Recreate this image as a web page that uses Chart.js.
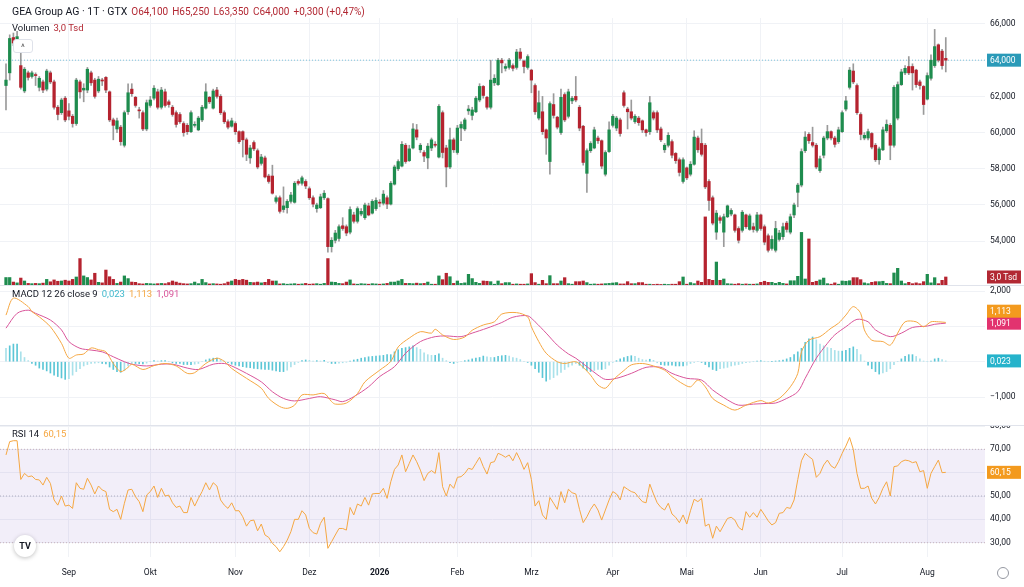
<!DOCTYPE html>
<html lang="de">
<head>
<meta charset="utf-8">
<title>GEA Group AG</title>
<script src="https://cdn.jsdelivr.net/npm/chart.js@4.4.1/dist/chart.umd.min.js"></script>
<style>
  html, body { margin: 0; padding: 0; background: #fff; }
  body { width: 1024px; height: 587px; position: relative; overflow: hidden; font-family: Roboto, "Noto Sans", sans-serif; color: #131722; }
  canvas { position: absolute; left: 0; }
  .sep { position: absolute; left: 0; width: 1024px; height: 1px; background: #e0e3eb; }
  .legend { position: absolute; left: 12px; white-space: nowrap; font-size: 9.5px; line-height: 12px; }
  .legend span { margin-left: 4px; }
  #head { top: 6px; font-size: 10.5px; }
  #head .v { color: #b22833; margin-left: 4px; font-size: 10px; }
  #vol { top: 22px; }
  #collapse { position: absolute; left: 13px; top: 39px; width: 18px; height: 12px; border: 1px solid #dfe2ea; border-radius: 3px; background: #fff; font-size: 9px; line-height: 14px; text-align: center; color: #555; }
  #macdLeg { top: 288px; }
  #rsiLeg { top: 428px; }
  #tv { position: absolute; left: 14px; top: 535px; width: 22px; height: 22px; border-radius: 50%; background: #fff; box-shadow: 0 1px 4px rgba(0,0,0,.25); font: bold 9px Roboto, sans-serif; line-height: 22px; text-align: center; color: #131722; }
  #gear { position: absolute; left: 997px; top: 567px; width: 10px; height: 10px; border: 1px solid #9598a1; border-radius: 50%; }
</style>
</head>
<body>
<canvas id="price" width="1024" height="286" style="top:0"></canvas>
<canvas id="macd" width="1024" height="140" style="top:286px"></canvas>
<canvas id="rsi" width="1024" height="161" style="top:426px"></canvas>
<div class="sep" style="top:285px"></div>
<div class="sep" style="top:425px"></div>

<div class="legend" id="head">GEA Group AG · 1T · GTX<span class="v">O64,100</span><span class="v">H65,250</span><span class="v">L63,350</span><span class="v">C64,000</span><span class="v">+0,300 (+0,47%)</span></div>
<div class="legend" id="vol">Volumen<span style="color:#b22833">3,0 Tsd</span></div>
<div id="collapse">^</div>
<div class="legend" id="macdLeg">MACD 12 26 close 9<span style="color:#3fb8cc">0,023</span><span style="color:#f5a742">1,113</span><span style="color:#d9559a">1,091</span></div>
<div class="legend" id="rsiLeg">RSI 14<span style="color:#f5a742">60,15</span></div>
<div id="tv">TV</div>
<div id="gear"></div>

<script>
// trading days per month, Aug 2025 .. Aug 2026
const DAYS_IN_MONTH = [17, 22, 23, 20, 19, 21, 20, 22, 20, 20, 22, 23, 6];
const MONTH_LABELS = ['Sep', 'Okt', 'Nov', 'Dez', '2026', 'Feb', 'Mrz', 'Apr', 'Mai', 'Jun', 'Jul', 'Aug'];

const OPEN = [
  62.60,63.30,65.25,65.00,63.70,62.30,63.30,63.10,63.20,62.50, 62.80,62.40,63.30,62.80,61.40,61.10,61.90,61.20,60.90,60.50,
  62.80,62.35,62.35,63.30,62.90,62.30,62.90,63.05,62.25,60.70, 60.20,60.30,59.30,61.15,62.40,61.95,61.25,61.10,60.20,61.50,
  61.90,62.25,61.40,62.25,61.70,61.40,61.10,61.00,60.50,60.40, 60.05,60.40,60.15,60.70,61.35,61.95,61.35,62.35,62.00,61.10,
  60.60,60.35,60.50,60.05,60.05,59.60,58.60,59.45,59.00,58.30, 58.60,57.60,57.60,56.20,56.40,55.75,55.85,56.20,56.15,57.30,
  57.20,57.30,56.90,56.40,55.80,55.85,56.40,56.35,53.70,54.05, 54.15,54.85,54.80,54.50,55.45,55.10,55.50,55.30,55.95,55.55,
  55.80,56.15,56.10,56.40,56.05,57.15,58.00,58.15,59.30,58.45, 59.15,60.15,59.05,58.90,58.60,59.15,59.35,58.65,61.10,59.15,
  58.10,59.60,58.90,60.25,60.20,61.20,60.95,61.15,61.80,62.55, 61.95,61.40,62.75,62.65,64.00,63.55,63.60,63.70,63.60,64.45,
  63.95,63.60,63.45,62.60,60.80,61.15,60.15,58.40,61.55,60.85, 60.00,62.10,60.90,61.75,62.00,61.40,60.35,57.75,59.00,59.15,
  59.70,59.55,57.70,58.95,60.40,60.25,60.70,62.20,61.30,61.15, 60.60,60.80,60.65,60.15,60.05,61.10,61.10,60.20,59.05,59.30,
  59.50,58.85,58.50,57.30,58.05,57.70,58.25,59.70,59.40,59.30, 57.30,56.40,54.50,55.30,54.50,55.35,55.50,55.45,54.70,54.60,
  55.45,54.65,54.80,54.60,55.45,54.80,54.30,53.60,53.50,54.10, 54.25,55.00,54.50,55.45,56.70,57.10,59.00,59.90,59.45,59.30,
  57.90,58.75,59.70,60.05,59.70,59.50,60.05,61.30,62.50,63.40, 62.60,61.00,59.70,59.70,59.95,59.30,58.50,59.05,60.10,60.40,
  59.30,60.80,62.65,63.30,63.65,63.65,63.45,62.80,62.55,61.85, 63.00,63.70,64.85,64.50,64.10
];
const HIGH = [
  63.80,65.40,65.50,65.60,64.45,63.60,63.40,63.40,63.30,63.10, 62.90,63.50,63.40,62.90,61.50,61.90,62.00,61.60,61.00,63.00,
  62.90,62.70,63.60,63.40,63.00,63.10,63.00,63.10,62.30,60.80, 60.80,60.40,61.20,62.70,62.70,62.00,61.40,61.20,61.80,62.00,
  62.60,62.40,62.50,62.40,61.80,61.50,61.20,61.10,60.60,60.50, 61.20,60.60,60.90,61.50,62.70,62.00,62.40,62.50,62.10,61.20,
  60.70,60.80,60.60,60.10,60.10,59.70,59.30,59.55,59.10,58.80, 58.70,57.70,58.20,56.50,56.50,57.00,56.30,56.70,57.30,57.40,
  57.60,57.40,57.00,56.50,56.10,56.60,56.80,56.40,54.20,54.60, 54.90,55.30,54.90,55.90,55.60,55.90,55.80,56.10,56.10,56.30,
  56.40,56.30,56.80,56.50,57.30,58.20,58.50,59.50,59.40,59.30, 60.50,60.45,59.40,59.00,59.40,59.70,59.50,61.55,61.20,59.30,
  60.25,59.70,60.40,60.60,60.80,61.50,61.40,62.00,62.70,62.60, 62.00,64.00,63.20,64.10,64.10,63.80,64.10,63.80,64.60,64.65,
  64.00,64.30,63.50,62.70,62.30,62.00,60.20,61.70,62.15,60.90, 62.40,62.20,62.40,62.00,63.10,61.50,60.40,59.10,59.50,60.30,
  59.80,59.60,59.00,60.60,61.00,60.90,60.80,62.30,61.40,61.80, 61.00,60.90,60.70,60.20,62.00,61.20,61.20,60.30,59.40,60.00,
  59.60,58.90,58.60,58.60,58.10,58.40,60.10,59.80,60.20,59.40, 57.40,56.50,55.70,55.40,55.50,56.00,55.80,55.50,54.80,55.70,
  55.50,55.50,55.00,55.60,55.50,54.90,54.40,54.30,55.10,54.60, 55.00,55.10,55.50,56.10,57.20,59.10,60.05,60.00,60.30,59.40,
  58.70,59.80,60.40,60.10,59.80,60.30,61.20,62.00,63.60,63.80, 62.70,61.10,60.00,60.20,60.00,59.40,59.20,60.30,60.70,60.50,
  62.60,62.80,63.50,63.70,64.20,63.80,63.50,62.90,62.60,63.30, 64.30,65.70,64.90,64.60,65.25
];
const LOW = [
  61.25,62.90,64.80,64.90,62.40,62.20,62.90,63.00,62.60,62.30, 62.20,62.30,62.70,61.30,60.70,61.00,60.60,60.70,60.30,60.40,
  61.90,61.70,62.20,62.60,61.90,62.20,62.60,62.20,60.60,59.60, 60.00,59.30,59.20,61.00,62.00,61.40,60.80,60.10,60.10,61.40,
  61.80,61.30,61.30,61.40,61.40,60.90,60.30,60.50,59.80,59.90, 60.00,60.30,60.10,60.60,61.30,61.60,61.30,61.90,61.00,60.50,
  60.20,60.30,59.90,59.40,58.65,58.45,58.30,59.00,58.00,58.20, 57.50,57.20,56.60,56.10,55.55,55.60,55.55,56.10,56.10,57.10,
  57.10,56.90,56.30,55.90,55.60,55.80,56.30,53.40,53.40,53.90, 54.00,54.60,54.30,54.40,55.00,55.00,55.40,55.20,55.40,55.50,
  55.70,55.90,56.00,55.80,56.00,57.10,57.90,58.10,58.30,58.40, 59.10,59.60,58.90,58.40,58.00,59.00,59.20,58.60,58.60,57.00,
  58.00,58.90,58.80,59.55,60.10,61.00,60.70,61.10,61.70,61.90, 61.30,61.30,62.60,62.60,63.30,63.40,63.50,63.40,63.50,64.00,
  63.30,63.50,62.20,61.00,60.70,59.90,58.80,57.70,60.80,60.20, 59.90,60.60,60.80,61.60,61.70,60.10,58.20,56.70,58.90,59.10,
  59.40,58.00,57.60,58.90,60.30,60.10,59.80,61.40,60.20,60.70, 60.50,60.40,60.00,59.80,59.90,60.70,60.00,59.50,58.90,59.20,
  58.60,58.30,57.60,57.20,57.40,57.60,58.20,58.90,58.70,56.90, 55.70,54.90,54.10,55.00,53.70,55.30,55.40,54.50,53.90,54.50,
  54.70,54.60,54.50,54.50,54.60,53.80,53.40,53.50,53.40,54.00, 54.10,54.50,54.40,55.30,55.90,57.00,58.90,59.40,59.20,58.00,
  57.80,58.60,59.60,59.60,59.20,59.40,60.00,61.20,62.40,62.70, 61.00,59.60,59.60,59.60,59.10,58.40,58.25,59.00,60.00,58.50,
  59.20,60.70,62.60,63.20,63.20,62.35,62.50,62.40,61.00,61.80, 62.90,63.60,63.90,63.50,63.35
];
const CLOSE = [
  62.90,65.20,64.95,65.30,62.50,63.50,63.05,63.30,63.15,63.00, 62.35,63.40,62.80,61.40,61.00,61.80,60.70,60.90,60.50,62.90,
  62.25,62.45,63.50,62.75,62.00,62.95,62.85,62.35,60.70,60.40, 60.65,59.50,61.10,62.20,62.15,61.50,61.20,60.20,61.65,61.80,
  62.45,61.40,62.35,61.50,61.55,61.00,60.45,60.60,60.00,60.05, 61.10,60.45,60.80,61.40,62.25,61.70,62.30,62.00,61.10,60.60,
  60.30,60.65,60.05,59.50,59.60,58.80,59.15,59.10,58.10,58.65, 57.55,57.30,56.65,56.40,55.65,55.95,56.20,56.55,57.20,57.20,
  57.50,57.05,56.40,56.05,56.00,56.45,56.65,53.70,54.05,54.45, 54.80,54.70,54.45,55.75,55.10,55.80,55.65,56.00,55.45,56.20,
  56.25,56.10,56.60,56.05,57.20,58.10,58.40,59.35,58.40,59.10, 60.20,59.75,59.30,58.70,59.25,59.60,59.30,61.45,58.90,58.10,
  59.60,59.05,60.25,60.45,60.70,61.30,61.25,61.90,62.55,62.05, 61.40,62.90,63.00,64.00,63.85,63.65,64.00,63.55,64.45,64.10,
  63.65,64.20,62.90,61.15,61.65,60.05,59.70,61.60,60.95,60.30, 61.95,60.70,62.25,61.90,61.80,60.25,58.35,59.00,59.40,60.15,
  59.55,58.15,58.90,60.15,60.90,60.80,59.95,61.50,61.15,60.80, 60.90,60.55,60.15,60.00,61.65,60.80,60.15,59.60,59.30,59.85,
  58.75,58.45,57.80,58.50,57.50,58.25,59.75,59.05,58.80,57.00, 56.25,55.00,55.55,55.15,55.35,55.95,55.70,54.60,54.05,55.60,
  54.80,55.40,54.65,55.45,54.70,53.95,53.50,54.10,54.70,54.45, 54.80,54.65,55.35,56.00,57.10,58.95,59.75,59.55,59.30,58.10,
  58.55,59.70,60.05,59.70,59.35,60.15,61.10,61.75,63.45,62.80, 61.10,59.90,59.85,60.05,59.20,58.50,59.10,60.15,60.45,59.30,
  62.50,62.65,63.35,63.55,63.30,63.30,62.65,62.60,61.55,63.15, 64.00,64.75,64.00,63.70,64.00
];
// volume in thousand shares
const VOLUME = [
  2.8,2.8,1.1,0.8,2.6,1.5,0.6,0.5,0.6,0.5, 0.7,2.1,1.2,1.9,1.4,1.5,1.8,1.5,2.1,3.0,
  9.9,3.4,2.8,1.9,4.4,1.0,0.8,5.6,3.1,2.1, 0.6,1.1,3.4,2.4,1.1,1.0,0.5,0.4,0.6,0.5,
  0.4,0.5,0.6,0.5,0.9,1.5,1.1,0.7,0.5,0.4, 0.5,1.1,0.5,2.1,0.9,0.4,0.5,0.4,0.3,0.5,
  1.1,1.5,2.1,1.8,2.1,1.8,1.0,0.9,1.1,0.8, 1.0,2.1,1.5,1.5,0.4,0.5,0.3,0.4,0.5,0.3,
  0.4,0.6,0.3,0.4,0.5,0.3,0.6,9.9,1.1,1.0, 0.6,0.5,1.1,1.9,0.4,0.3,0.5,0.4,0.3,0.5,
  0.4,0.3,0.4,0.6,1.1,1.1,1.5,2.1,0.6,0.6, 0.5,0.7,0.5,0.6,1.1,0.3,0.3,3.4,2.0,4.4,
  3.1,0.6,1.5,0.6,0.8,4.0,2.4,1.0,0.6,1.5, 1.4,1.25,0.3,1.5,0.5,0.9,0.9,0.3,0.4,0.3,
  0.3,0.4,4.25,0.9,0.3,1.75,0.5,3.5,0.5,0.5, 1.5,2.75,0.5,0.3,1.25,1.25,1.5,0.9,0.3,0.4,
  0.3,0.4,0.5,0.6,0.75,0.9,0.4,0.4,1.25,0.5, 0.5,0.9,0.9,0.3,0.3,0.2,0.3,0.2,0.3,0.2,
  0.3,0.3,1.25,3.0,0.3,0.9,0.5,1.5,1.0,25.5, 2.1,1.75,8.6,1.75,2.25,0.5,0.4,0.3,0.5,0.3,
  0.4,0.3,0.3,0.4,1.0,1.4,1.0,1.0,0.6,1.0, 0.6,0.4,1.6,1.6,3.25,19.7,2.25,17.25,1.0,1.4,
  1.9,2.6,0.5,0.3,0.8,0.3,1.5,1.4,1.6,2.75, 2.75,2.0,0.8,0.5,1.0,1.25,1.25,1.4,0.6,0.5,
  4.5,6.25,1.5,0.5,1.0,0.5,0.8,0.5,1.25,4.0, 0.8,2.75,0.5,1.75,3.0
];

// MACD line and signal line, read at the listed day indices
const MACD_DAY = [0,2,6,7,9,12,15,17,19,21,23,25,27,29,31,33,34,37,40,43,46,49,51,54,57,59,61,65,69,71,74,76,78,80,83,86,88,89,92,95,97,101,104,106,109,112,115,116,118,121,124,126,129,132,134,138,141,142,144,146,149,151,154,156,158,160,162,164,167,169,172,175,178,180,183,185,187,189,191,194,197,200,204,206,209,212,214,215,217,220,223,225,227,229,231,232,234,237,239,241,243,246,248,250,252,254];
const MACD_VAL = [1.32,1.80,1.56,1.42,1.27,0.99,0.52,0.10,0.19,0.22,0.39,0.34,0.28,-0.05,-0.28,-0.16,-0.07,-0.22,-0.11,-0.05,-0.12,-0.33,-0.31,-0.05,0.10,0.01,-0.19,-0.47,-0.75,-1.04,-1.27,-1.32,-1.23,-0.94,-0.94,-0.90,-1.13,-1.20,-1.17,-0.90,-0.57,-0.24,0.01,0.42,0.67,0.85,0.81,0.92,0.76,0.63,0.70,0.89,1.04,1.13,1.35,1.39,1.27,0.99,0.57,0.24,0.00,-0.05,0.00,-0.16,-0.38,-0.66,-0.75,-0.52,-0.25,-0.09,-0.05,-0.12,-0.24,-0.42,-0.63,-0.71,-0.52,-0.71,-1.04,-1.23,-1.37,-1.23,-1.10,-1.17,-1.04,-0.71,-0.33,0.28,0.61,0.71,0.95,1.09,1.32,1.56,1.37,0.90,0.61,0.57,0.47,0.81,1.13,1.13,0.99,1.13,1.13,1.113];
const SIGNAL_DAY = [0,3,6,8,12,15,17,20,23,26,29,32,34,38,42,45,49,52,56,59,61,65,69,72,75,78,82,85,89,91,94,98,101,105,108,112,116,119,123,126,130,134,137,141,143,146,149,152,154,157,160,162,165,169,173,177,180,184,188,191,195,198,202,206,208,211,214,216,219,222,224,227,230,233,235,239,242,245,249,251,254];
const SIGNAL_VAL = [0.95,1.37,1.46,1.37,1.18,0.90,0.57,0.38,0.33,0.28,0.14,0.00,-0.07,-0.12,-0.07,-0.07,-0.18,-0.22,-0.07,-0.05,-0.12,-0.33,-0.57,-0.85,-1.04,-1.11,-1.04,-0.99,-1.08,-1.13,-0.99,-0.71,-0.42,-0.14,0.24,0.57,0.71,0.73,0.71,0.81,0.95,1.11,1.26,1.30,1.13,0.81,0.47,0.22,0.10,-0.14,-0.38,-0.50,-0.47,-0.33,-0.16,-0.16,-0.33,-0.47,-0.52,-0.80,-1.08,-1.23,-1.20,-1.18,-1.17,-1.04,-0.85,-0.47,0.10,0.52,0.76,0.99,1.20,1.13,0.90,0.71,0.81,0.97,1.01,1.06,1.091];
const HIST = [
  0.38,0.45,0.50,0.50,0.28,0.12,0.03,-0.05,-0.10,-0.18, -0.22,-0.26,-0.32,-0.38,-0.42,-0.46,-0.50,-0.48,-0.38,-0.28,
  -0.20,-0.12,-0.08,-0.05,-0.04,-0.03,-0.05,-0.06,-0.15,-0.22, -0.28,-0.30,-0.25,-0.12,-0.05,-0.05,-0.06,-0.06,-0.04,0.00,
  0.03,0.02,0.03,0.03,0.00,-0.03,-0.05,-0.05,-0.08,-0.08, -0.08,-0.07,-0.05,0.00,0.05,0.08,0.10,0.10,0.06,0.02,
  -0.03,-0.07,-0.10,-0.12,-0.14,-0.16,-0.17,-0.19,-0.20,-0.21, -0.22,-0.22,-0.24,-0.26,-0.28,-0.28,-0.24,-0.15,-0.08,-0.02,
  0.03,0.05,0.04,0.02,0.03,0.02,0.04,-0.02,-0.05,-0.05, -0.04,-0.03,-0.01,0.02,0.05,0.07,0.10,0.12,0.14,0.15,
  0.16,0.17,0.18,0.20,0.20,0.28,0.34,0.38,0.40,0.42, 0.45,0.40,0.35,0.25,0.20,0.18,0.18,0.22,0.10,0.03,
  -0.03,-0.05,-0.02,0.00,0.03,0.05,0.08,0.10,0.12,0.16, 0.14,0.12,0.12,0.15,0.17,0.18,0.16,0.12,0.10,0.06,
  0.00,-0.02,-0.10,-0.20,-0.30,-0.45,-0.55,-0.50,-0.45,-0.38, -0.30,-0.22,-0.15,-0.10,-0.05,-0.10,-0.18,-0.25,-0.28,-0.25,
  -0.22,-0.22,-0.20,-0.10,-0.02,0.03,0.08,0.12,0.15,0.17, 0.15,0.10,0.06,0.05,0.07,0.04,-0.03,-0.08,-0.10,-0.10,
  -0.10,-0.12,-0.12,-0.12,-0.10,-0.05,-0.02,0.00,-0.02,-0.08, -0.15,-0.22,-0.25,-0.20,-0.18,-0.16,-0.12,-0.10,-0.08,-0.05,
  -0.03,-0.01,0.00,0.02,0.03,0.01,0.00,0.01,0.02,0.03, 0.05,0.08,0.12,0.20,0.28,0.38,0.55,0.65,0.70,0.62,
  0.50,0.45,0.40,0.38,0.32,0.30,0.30,0.32,0.38,0.42, 0.35,0.20,0.02,-0.10,-0.20,-0.28,-0.35,-0.32,-0.28,-0.20,
  -0.08,0.00,0.08,0.15,0.20,0.20,0.15,0.08,0.02,0.00, 0.02,0.08,0.10,0.06,0.023
];
const RSI = [
  67.6,73.3,73.7,73.7,57.1,59.7,58.3,58.6,57.1,56.9, 54.7,58.0,55.4,48.3,46.1,50.0,45.7,46.1,44.7,55.7,
  53.3,52.9,57.6,54.7,50.9,54.3,52.6,51.9,44.3,43.3, 44.3,40.0,46.9,52.6,52.9,49.7,47.6,43.3,50.4,51.9,
  54.3,49.4,53.3,50.0,50.4,47.1,45.1,45.7,42.9,42.9, 49.4,45.7,49.0,51.9,55.7,52.6,55.7,54.3,48.3,46.1,
  44.7,47.1,43.7,43.7,41.1,37.1,39.4,39.7,35.1,38.0, 33.3,32.3,29.7,28.3,26.1,28.3,31.1,34.7,40.0,40.0,
  43.7,41.9,36.1,34.3,33.7,38.3,40.9,27.6,30.4,33.3, 36.1,36.1,35.4,45.1,41.9,46.6,45.7,49.4,46.1,50.9,
  51.1,51.1,53.3,49.0,56.1,61.4,63.3,67.6,60.4,64.0, 67.6,64.7,61.1,56.6,59.7,60.9,59.7,68.6,54.0,50.0,
  55.1,53.3,58.0,58.3,59.7,61.9,61.4,64.0,66.6,62.6, 59.4,64.3,64.7,68.3,67.6,66.6,67.6,65.1,68.6,65.4,
  61.4,64.3,57.1,45.7,48.0,41.9,40.0,49.4,46.9,44.3, 51.9,47.1,52.9,51.4,50.9,44.3,38.6,41.1,44.3,46.6,
  44.0,39.7,44.0,48.3,51.9,50.9,48.3,54.0,52.9,51.9, 51.4,49.4,47.6,47.1,55.1,50.9,47.1,45.1,44.0,46.9,
  42.3,40.9,38.6,41.9,38.0,43.7,48.6,47.6,49.0,37.1, 38.0,31.9,37.1,34.7,37.6,40.4,40.9,39.7,36.6,35.4,
  43.3,40.9,42.9,40.9,44.3,41.9,39.4,37.6,38.6,42.6, 42.9,45.1,44.7,48.3,57.1,65.1,68.3,66.9,65.7,58.0,
  59.7,63.3,65.4,62.9,61.9,64.7,68.3,71.4,75.1,70.0, 59.7,53.3,53.3,54.3,49.0,46.6,49.4,53.3,56.1,50.0,
  62.6,62.9,64.7,65.4,65.1,64.3,64.7,60.4,60.9,53.3, 59.7,62.6,65.4,60.0,60.15
];

const PRICE_TICKS = [54, 56, 58, 60, 62, 64, 66];
const MACD_TICKS = [2, 1, 0, -1];
const RSI_TICKS = [80, 70, 60, 50, 40, 30];
const RSI_BANDS = [70, 50, 30];

// view window in day units (right margin left empty like the original)
const X_MIN = -1.62, X_MAX = 264.6;
const AXIS_W = 39;
const UP = '#1e8c4e', DOWN = '#b5232f', WICK = '#9a9a9a';
const GRID = '#f0f2f6';
const FONT = 'Roboto, "Noto Sans", sans-serif';

const monthStart = [];
DAYS_IN_MONTH.reduce((acc, n, k) => { if (k > 0) monthStart.push(acc); return acc + n; }, 0);

const fmt = (v, d) => v.toFixed(d).replace('.', ',').replace('-', '\u2212');
const candleColor = CLOSE.map((c, i) => c >= OPEN[i] ? UP : DOWN);

const axisBadges = {
  id: 'axisBadges',
  afterDraw(chart, args, opts) {
    const ctx = chart.ctx;
    const items = (opts.items || []).map(b => ({ ...b, py: chart.scales[b.axis].getPixelForValue(b.value) }));
    items.sort((a, b) => b.py - a.py);
    for (let k = 1; k < items.length; k++) {
      if (items[k - 1].py - items[k].py < 12) items[k].py = items[k - 1].py - 12;
    }
    ctx.save();
    ctx.font = '8.5px ' + FONT;
    ctx.textBaseline = 'middle';
    items.forEach(b => {
      const x = chart.chartArea.right + 2;
      ctx.fillStyle = b.bg;
      ctx.fillRect(x, b.py - 6.5, 34, 13);
      ctx.fillStyle = '#fff';
      ctx.fillText(b.text, x + 3, b.py + 0.5);
    });
    ctx.restore();
  }
};

function xAxis(showLabels) {
  return {
    type: 'linear', min: X_MIN, max: X_MAX, offset: false,
    afterBuildTicks: s => { s.ticks = monthStart.map(v => ({ value: v })); },
    grid: { color: GRID, drawTicks: false, offset: false },
    border: { display: false },
    ticks: {
      display: showLabels, padding: 11, color: '#131722', maxRotation: 0,
      callback: (v, i) => MONTH_LABELS[i],
      font: c => ({ size: 8.5, family: FONT, weight: MONTH_LABELS[c.index] === '2026' ? 'bold' : 'normal' })
    },
    afterFit: s => { s.height = showLabels ? 30 : 0; s.paddingLeft = 0; s.paddingRight = 0; }
  };
}

function yAxis(min, max, ticks, digits, shown) {
  return {
    position: 'right', min: min, max: max,
    afterBuildTicks: s => { s.ticks = ticks.map(v => ({ value: v })); },
    grid: { color: GRID, drawTicks: false },
    border: { display: false },
    ticks: {
      padding: 5, color: '#131722', font: { size: 8.5, family: FONT },
      callback: v => (!shown || shown.includes(v)) ? fmt(v, digits) : ''
    },
    afterFit: s => { s.width = AXIS_W; s.paddingTop = 0; s.paddingBottom = 0; }
  };
}

const common = {
  responsive: false,
  animation: false,
  events: [],
  plugins: { legend: { display: false }, tooltip: { enabled: false } }
};

// price + volume
new Chart(document.getElementById('price'), {
  type: 'bar',
  data: {
    datasets: [
      { type: 'line', order: 4, data: [{ x: X_MIN, y: CLOSE[CLOSE.length - 1] }, { x: X_MAX, y: CLOSE[CLOSE.length - 1] }],
        borderColor: '#7cc3da', borderWidth: 1, borderDash: [1, 2], pointRadius: 0, yAxisID: 'y' },
      { order: 3, yAxisID: 'yv', grouped: false, barThickness: 2.6,
        data: VOLUME.map((v, i) => ({ x: i, y: v })), backgroundColor: candleColor },
      { order: 2, yAxisID: 'y', grouped: false, barThickness: 1,
        data: HIGH.map((h, i) => ({ x: i, y: [LOW[i], h] })), backgroundColor: WICK },
      { order: 1, yAxisID: 'y', grouped: false, barThickness: 2.6, minBarLength: 1,
        data: OPEN.map((o, i) => ({ x: i, y: [o, CLOSE[i]] })), backgroundColor: candleColor }
    ]
  },
  options: {
    ...common,
    layout: { padding: { top: 18, bottom: 1, left: 0, right: 0 } },
    scales: {
      x: xAxis(false),
      y: yAxis(51.58, 66.33, PRICE_TICKS, 3),
      yv: { display: false, min: 0, max: 100 }
    },
    plugins: {
      ...common.plugins,
      axisBadges: { items: [
        { axis: 'y', value: CLOSE[CLOSE.length - 1], text: fmt(CLOSE[CLOSE.length - 1], 3), bg: '#2a9ab8' },
        { axis: 'yv', value: VOLUME[VOLUME.length - 1], text: fmt(VOLUME[VOLUME.length - 1], 1) + ' Tsd', bg: '#b22833' }
      ] }
    }
  },
  plugins: [axisBadges]
});

// MACD
new Chart(document.getElementById('macd'), {
  type: 'bar',
  data: {
    datasets: [
      { type: 'line', order: 1, data: MACD_DAY.map((d, k) => ({ x: d, y: MACD_VAL[k] })),
        borderColor: '#f5a742', borderWidth: 1, pointRadius: 0, tension: 0.3 },
      { type: 'line', order: 2, data: SIGNAL_DAY.map((d, k) => ({ x: d, y: SIGNAL_VAL[k] })),
        borderColor: '#d9559a', borderWidth: 1, pointRadius: 0, tension: 0.3 },
      { order: 3, barThickness: 1, data: HIST.map((h, i) => ({ x: i, y: h })),
        backgroundColor: c => {
          const i = c.dataIndex;
          const grow = i > 0 && Math.abs(HIST[i]) >= Math.abs(HIST[i - 1]);
          return grow ? '#5cc6d6' : '#a9e1ea';
        } }
    ]
  },
  options: {
    ...common,
    layout: { padding: 0 },
    scales: {
      x: xAxis(false),
      y: yAxis(-1.82, 2.144, MACD_TICKS, 3, [2, -1])
    },
    plugins: {
      ...common.plugins,
      axisBadges: { items: [
        { axis: 'y', value: MACD_VAL[MACD_VAL.length - 1], text: fmt(MACD_VAL[MACD_VAL.length - 1], 3), bg: '#f39a1e' },
        { axis: 'y', value: SIGNAL_VAL[SIGNAL_VAL.length - 1], text: fmt(SIGNAL_VAL[SIGNAL_VAL.length - 1], 3), bg: '#e2336f' },
        { axis: 'y', value: HIST[HIST.length - 1], text: fmt(HIST[HIST.length - 1], 3), bg: '#26b3cb' }
      ] }
    }
  },
  plugins: [axisBadges]
});

// RSI
const bandLine = (lvl, extra) => ({
  type: 'line', order: 5, data: [{ x: X_MIN, y: lvl }, { x: X_MAX, y: lvl }],
  borderColor: lvl === 50 ? '#b2b5be' : '#c7b1bb', borderWidth: 1, borderDash: [1, 2], pointRadius: 0, fill: false, ...extra
});
new Chart(document.getElementById('rsi'), {
  type: 'line',
  data: {
    datasets: [
      bandLine(RSI_BANDS[0]),
      bandLine(RSI_BANDS[2], { fill: '-1', backgroundColor: 'rgba(126,87,194,0.1)' }),
      bandLine(RSI_BANDS[1]),
      { order: 1, data: RSI.map((r, i) => ({ x: i, y: r })), borderColor: '#f5a742', borderWidth: 1, pointRadius: 0 }
    ]
  },
  options: {
    ...common,
    layout: { padding: 0 },
    scales: {
      x: xAxis(true),
      y: yAxis(23.88, 80, RSI_TICKS, 2)
    },
    plugins: {
      ...common.plugins,
      axisBadges: { items: [
        { axis: 'y', value: RSI[RSI.length - 1], text: fmt(RSI[RSI.length - 1], 2), bg: '#f39a1e' }
      ] }
    }
  },
  plugins: [axisBadges]
});
</script>
</body>
</html>
